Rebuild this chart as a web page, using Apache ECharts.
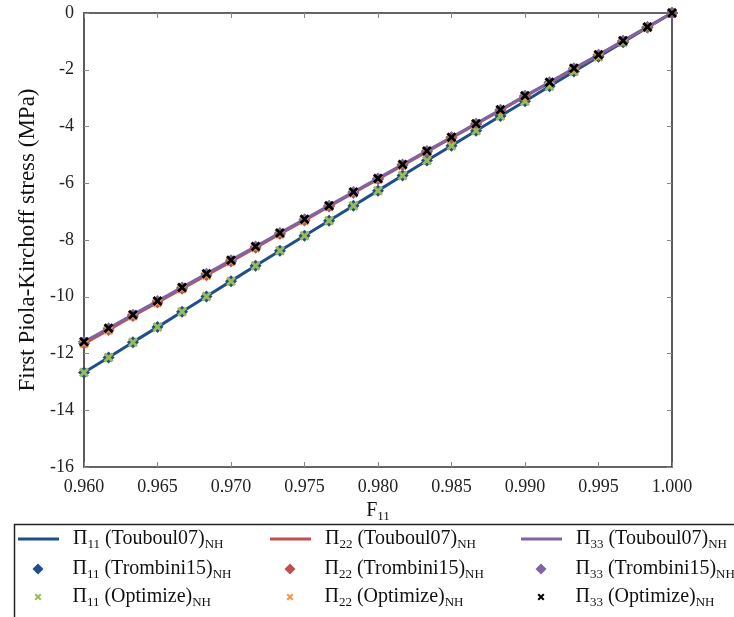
<!DOCTYPE html>
<html>
<head>
<meta charset="utf-8">
<script src="https://cdn.jsdelivr.net/npm/echarts@6/dist/echarts.min.js"></script>
<style>
html,body{margin:0;padding:0;background:#fff;}
#chart{width:734px;height:617px;}
</style>
</head>
<body>
<div id="chart"></div>
<script>
// ---- data ----
const f11 = [0.96000,0.96167,0.96333,0.96500,0.96667,0.96833,0.97000,0.97167,0.97333,0.97500,0.97667,0.97833,0.98000,0.98167,0.98333,0.98500,0.98667,0.98833,0.99000,0.99167,0.99333,0.99500,0.99667,0.99833,1.00000];
const pi11 = [-12.67,-12.14,-11.60,-11.07,-10.53,-9.99,-9.45,-8.91,-8.38,-7.85,-7.32,-6.79,-6.26,-5.73,-5.20,-4.68,-4.15,-3.63,-3.11,-2.58,-2.06,-1.54,-1.03,-0.51,0.00];
const pi22 = [-11.65,-11.17,-10.68,-10.20,-9.72,-9.24,-8.76,-8.27,-7.79,-7.31,-6.82,-6.34,-5.86,-5.37,-4.89,-4.40,-3.92,-3.43,-2.94,-2.46,-1.97,-1.48,-0.99,-0.50,0.00];
const pi33 = [-11.59,-11.11,-10.63,-10.15,-9.67,-9.19,-8.71,-8.23,-7.75,-7.27,-6.79,-6.31,-5.83,-5.34,-4.86,-4.38,-3.90,-3.41,-2.92,-2.44,-1.95,-1.47,-0.98,-0.49,0.00];
const xTicks = {min:0.96, max:1.0, interval:0.005};
const yTicks = {min:-16, max:0, interval:2};
const seriesNames = [
  ['T11','{n|Π}{s|11}{n| (Touboul07)}{s|NH}'],
  ['T22','{n|Π}{s|22}{n| (Touboul07)}{s|NH}'],
  ['T33','{n|Π}{s|33}{n| (Touboul07)}{s|NH}'],
  ['R11','{n|Π}{s|11}{n| (Trombini15)}{s|NH}'],
  ['R22','{n|Π}{s|22}{n| (Trombini15)}{s|NH}'],
  ['R33','{n|Π}{s|33}{n| (Trombini15)}{s|NH}'],
  ['O11','{n|Π}{s|11}{n| (Optimize)}{s|NH}'],
  ['O22','{n|Π}{s|22}{n| (Optimize)}{s|NH}'],
  ['O33','{n|Π}{s|33}{n| (Optimize)}{s|NH}']
];
// ---- style ----
const FONT = 'Liberation Serif';
const C = {blue:'#1f4e89', red:'#c0504d', purple:'#8064a2', green:'#9bbb59', orange:'#f79646', black:'#000000'};
const labelMap = Object.fromEntries(seriesNames);
const pairs = (ys) => f11.map((x,i)=>[x, ys[i]]);
const DIAMOND = 'path://M5,0 L10,5 L5,10 L0,5 Z';
const CROSS = 'path://M0,2 L2,0 L5,3 L8,0 L10,2 L7,5 L10,8 L8,10 L5,7 L2,10 L0,8 L3,5 Z';
const LINEICON = 'path://M0,0 L41,0 L41,3 L0,3 Z';
const rich = {
  n:{fontFamily:FONT,fontSize:20,lineHeight:24,color:'#111'},
  s:{fontFamily:FONT,fontSize:13,lineHeight:13,verticalAlign:'bottom',color:'#111'}
};
function lineSeries(name, ys, color){
  return {name, type:'line', data:pairs(ys), symbol:'none', showSymbol:false,
    lineStyle:{color, width:3}, itemStyle:{color}, z:2, animation:false};
}
function scatterSeries(name, ys, color, sym, size, z){
  return {name, type:'scatter', data:pairs(ys), symbol:sym, symbolSize:size,
    itemStyle:{color, opacity:1}, z, animation:false};
}
const colX = [0, 252, 503];
const rowY = [541, 571, 599];
const rowLeft = [18, 32.5, 34.5];
const legendDefs = [
  ['T11',0,0,LINEICON,11],['T22',1,0,LINEICON,11],['T33',2,0,LINEICON,11],
  ['R11',0,1,DIAMOND,11],['R22',1,1,DIAMOND,11],['R33',2,1,DIAMOND,11],
  ['O11',0,2,CROSS,7],['O22',1,2,CROSS,7],['O33',2,2,CROSS,7]
];
const legends = legendDefs.map(([nm,c,r,icon,h])=>({
  show:true, orient:'horizontal', left:colX[c]+rowLeft[r], top:rowY[r]-12, padding:0,
  itemWidth:41, itemHeight:h, selectedMode:false,
  data:[{name:nm, icon:icon}],
  formatter:(n)=>labelMap[n],
  textStyle:{rich, padding:[0,0,0,9]}
}));

const axisCommon = {
  axisLine:{show:true, onZero:false, lineStyle:{color:'#333', width:1.6}},
  axisTick:{show:true, inside:true, length:5, lineStyle:{color:'#888', width:1}},
  splitLine:{show:false}
};

const option = {
  animation:false,
  backgroundColor:'#fff',
  grid:{left:84, right:62, top:13, bottom:150, containLabel:false},
  xAxis:[
    Object.assign({type:'value', position:'bottom', min:xTicks.min, max:xTicks.max, interval:xTicks.interval,
      axisLabel:{fontFamily:FONT, fontSize:18, color:'#222', margin:11, formatter:(v)=>v.toFixed(3)},
      name:'{n|F}{s|11}', nameLocation:'middle', nameGap:24,
      nameTextStyle:{rich:{n:{fontFamily:FONT,fontSize:20,lineHeight:24,color:'#111'}, s:{fontFamily:FONT,fontSize:13,lineHeight:13,verticalAlign:'bottom',color:'#111'}}}
    }, axisCommon),
    Object.assign({type:'value', position:'top', min:xTicks.min, max:xTicks.max, interval:xTicks.interval,
      axisLabel:{show:false}}, axisCommon)
  ],
  yAxis:[
    Object.assign({type:'value', position:'left', min:yTicks.min, max:yTicks.max, interval:yTicks.interval,
      axisLabel:{fontFamily:FONT, fontSize:18, color:'#222', margin:10},
      name:'First Piola-Kirchoff stress (MPa)', nameLocation:'middle', nameGap:45,
      nameTextStyle:{fontFamily:FONT, fontSize:23, color:'#111'}
    }, axisCommon),
    Object.assign({type:'value', position:'right', min:yTicks.min, max:yTicks.max, interval:yTicks.interval,
      axisLabel:{show:false}}, axisCommon)
  ],
  legend: legends,
  graphic:[{type:'rect', left:12, top:522, shape:{width:760, height:110},
    style:{fill:'none', stroke:'#222', lineWidth:1.5}, silent:true, z:-1}],
  series:[
    lineSeries('T11', pi11, C.blue),
    lineSeries('T22', pi22, C.red),
    lineSeries('T33', pi33, C.purple),
    scatterSeries('R11', pi11, C.blue, DIAMOND, 12, 3),
    scatterSeries('R22', pi22, C.red, DIAMOND, 12, 3),
    scatterSeries('R33', pi33, C.purple, DIAMOND, 12, 3),
    scatterSeries('O11', pi11, C.green, CROSS, 10, 4),
    scatterSeries('O22', pi22, C.orange, CROSS, 10, 4),
    scatterSeries('O33', pi33, C.black, CROSS, 10, 4)
  ]
};
const chart = echarts.init(document.getElementById('chart'), null, {renderer:'canvas'});
chart.setOption(option);
</script>
</body>
</html>
